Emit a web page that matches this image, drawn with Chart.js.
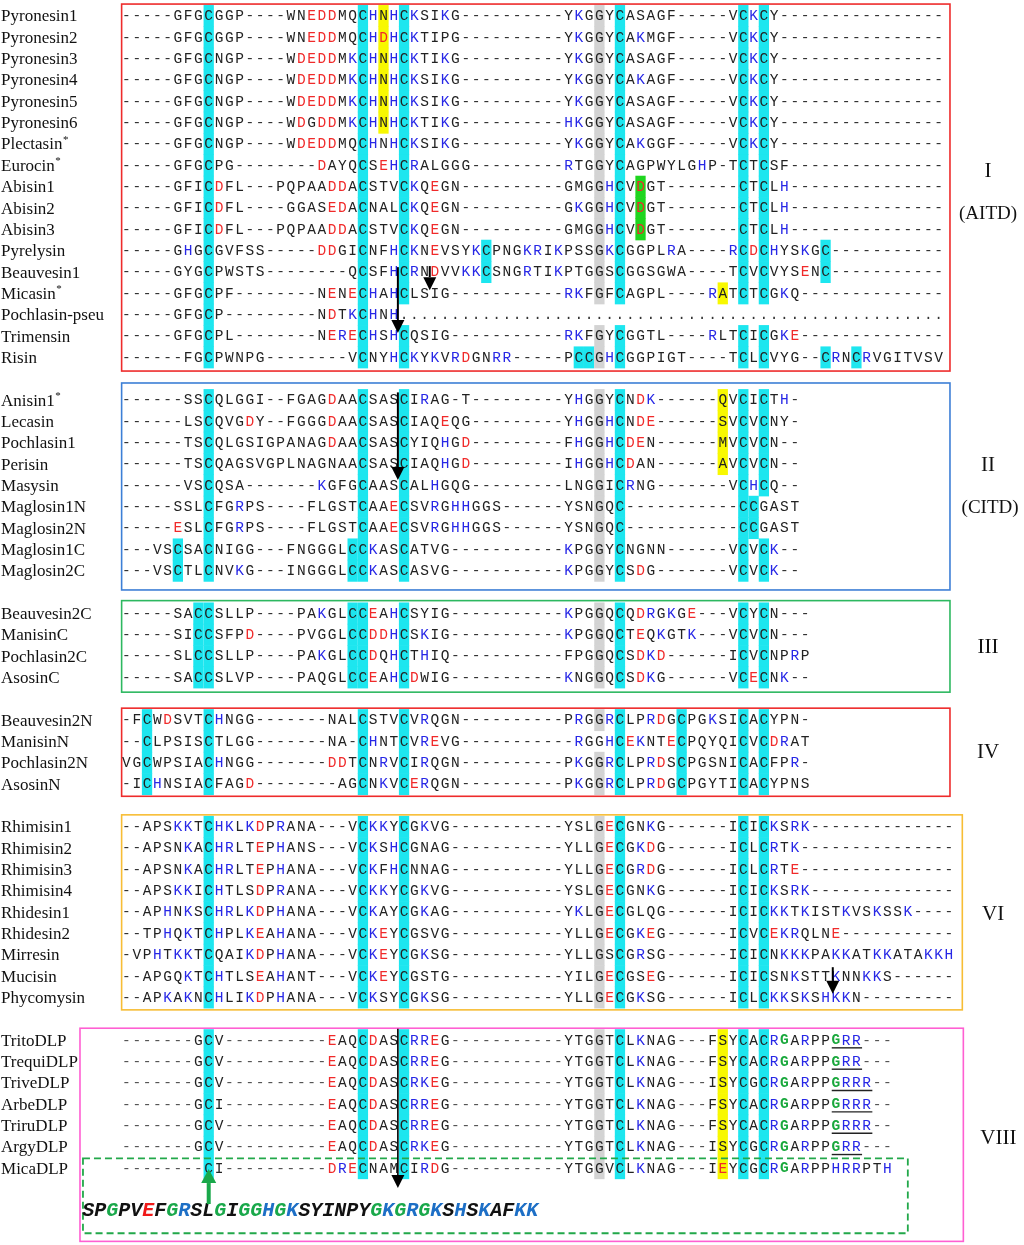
<!DOCTYPE html>
<html>
<head>
<meta charset="utf-8">
<script src="https://cdn.jsdelivr.net/npm/chart.js@4.4.1/dist/chart.umd.min.js"></script>
<style>
  html, body { margin: 0; padding: 0; background: #fff; }
  #wrap { width: 1024px; height: 1245px; }
</style>
</head>
<body>
<div id="wrap"><canvas id="align"></canvas></div>
<script>
// sequences: a number is a run of gaps "-", a number followed by "." is a run of dots
// cells: c = cyan, g = grey, y = yellow, n = green, followed by the column
var groupLabels = ["I", "II", "III", "IV", "VI", "VIII"];
var groupSubs = ["(AITD)", "(CITD)", "", "", "", ""];

var names1 = ["Pyronesin1", "Pyronesin2", "Pyronesin3", "Pyronesin4", "Pyronesin5", "Pyronesin6",
  "Plectasin*", "Eurocin*", "Abisin1", "Abisin2", "Abisin3", "Pyrelysin", "Beauvesin1",
  "Micasin*", "Pochlasin-pseu", "Trimensin", "Risin"];
var seqs1 = [
  "5GFGCGGP4WNEDDMQCHNHCKSIKG10YKGGYCASAGF5VCKCY16",
  "5GFGCGGP4WNEDDMQCHDHCKTIPG10YKGGYCAKMGF5VCKCY16",
  "5GFGCNGP4WDEDDMKCHNHCKTIKG10YKGGYCASAGF5VCKCY16",
  "5GFGCNGP4WDEDDMKCHNHCKSIKG10YKGGYCAKAGF5VCKCY16",
  "5GFGCNGP4WDEDDMKCHNHCKSIKG10YKGGYCASAGF5VCKCY16",
  "5GFGCNGP4WDGDDMKCHNHCKTIKG10HKGGYCASAGF5VCKCY16",
  "5GFGCNGP4WDEDDMQCHNHCKSIKG10YKGGYCAKGGF5VCKCY16",
  "5GFGCPG8DAYQCSEHCRALGGG9RTGGYCAGPWYLGHP1TCTCSF15",
  "5GFICDFL3PQPAADDACSTVCKQEGN10GMGGHCVDGT7CTCLH15",
  "5GFICDFL4GGASEDACNALCKQEGN10GKGGHCVDGT7CTCLH15",
  "5GFICDFL3PQPAADDACSTVCKQEGN10GMGGHCVDGT7CTCLH15",
  "5GHGCGVFSS5DDGICNFHCKNEVSYKCPNGKRIKPSSGKCGGPLRA4RCDCHYSKGC11",
  "5GYGCPWSTS8QCSFHCRNDVVKKCSNGRTIKPTGGSCGGSGWA4TCVCVYSENC11",
  "5GFGCPF8NENECHAHCLSIG11RKFGFCAGPL4RATCTCGKQ14",
  "5GFGCP9NDTKCHNH53.",
  "5GFGCPL8NERECHSHCQSIG11RKFGYCGGTL4RLTCICGKE14",
  "6FGCPWNPG8VCNYHCKYKVRDGNRR5PCCGHCGGPIGT4TCLCVYG2CRNCRVGITVSV"
];
var cells1 = [
  "c8 c23 c27 c48 c60 c62 g46 y25", "c8 c23 c27 c48 c60 c62 g46 y25",
  "c8 c23 c27 c48 c60 c62 g46 y25", "c8 c23 c27 c48 c60 c62 g46 y25",
  "c8 c23 c27 c48 c60 c62 g46 y25", "c8 c23 c27 c48 c60 c62 g46 y25",
  "c8 c23 c27 c48 c60 c62 g46", "c8 c23 c27 c48 c60 c62 g46",
  "c8 c23 c27 c48 c60 c62 g46 n50", "c8 c23 c27 c48 c60 c62 g46 n50",
  "c8 c23 c27 c48 c60 c62 g46 n50",
  "c8 c23 c27 c35 c48 c60 c62 c68 g46", "c8 c23 c27 c35 c48 c60 c62 c68 g46",
  "c8 c23 c27 c48 c60 c62 g46 y58", "c8 c23",
  "c8 c23 c27 c48 c60 c62 g46",
  "c8 c23 c27 c44 c45 c48 c60 c62 c68 c71 g46"
];

var names2 = ["Anisin1*", "Lecasin", "Pochlasin1", "Perisin", "Masysin",
  "Maglosin1N", "Maglosin2N", "Maglosin1C", "Maglosin2C"];
var seqs2 = [
  "6SSCQLGGI2FGAGDAACSASCIRAG1T9YHGGYCNDK6QVCICTH1",
  "6LSCQVGDY2FGGGDAACSASCIAQEQG9YHGGHCNDE6SVCVCNY1",
  "6TSCQLGSIGPANAGDAACSASCYIQHGD9FHGGHCDEN6MVCVCN2",
  "6TSCQAGSVGPLNAGNAACSASCIAQHGD9IHGGHCDAN6AVCVCN2",
  "6VSCQSA7KGFGCAASCALHGQG9LNGGICRNG7VCHCQ2",
  "5SSLCFGRPS4FLGSTCAAECSVRGHHGGS6YSNGQC11CCGAST",
  "5ESLCFGRPS4FLGSTCAAECSVRGHHGGS6YSNGQC11CCGAST",
  "3VSCSACNIGG3FNGGGLCCKASCATVG11KPGGYCNGNN6VCVCK2",
  "3VSCTLCNVKG3INGGGLCCKASCASVG11KPGGYCSDG7VCVCK2"
];
var cells2 = [
  "c8 c23 c27 c48 c60 c62 g46 y58", "c8 c23 c27 c48 c60 c62 g46 y58",
  "c8 c23 c27 c48 c60 c62 g46 y58", "c8 c23 c27 c48 c60 c62 g46 y58",
  "c8 c23 c27 c48 c60 c62 g46",
  "c8 c23 c27 c48 c60 c61 g46", "c8 c23 c27 c48 c60 c61 g46",
  "c5 c8 c22 c23 c27 c48 c60 c62 g46", "c5 c8 c22 c23 c27 c48 c60 c62 g46"
];

var names3 = ["Beauvesin2C", "ManisinC", "Pochlasin2C", "AsosinC"];
var seqs3 = [
  "5SACCSLLP4PAKGLCCEAHCSYIG11KPGGQCQDRGKGE3VCYCN3",
  "5SICCSFPD4PVGGLCCDDHCSKIG11KPGGQCTEQKGTK3VCVCN3",
  "5SLCCSLLP4PAKGLCCDQHCTHIQ11FPGGQCSDKD6ICVCNPRP",
  "5SACCSLVP4PAQGLCCEAHCDWIG11KNGGQCSDKG6VCECNK2"
];
var cells3 = [
  "c7 c8 c22 c23 c27 c48 c60 c62 g46", "c7 c8 c22 c23 c27 c48 c60 c62 g46",
  "c7 c8 c22 c23 c27 c48 c60 c62 g46", "c7 c8 c22 c23 c27 c48 c60 c62 g46"
];

var names4 = ["Beauvesin2N", "ManisinN", "Pochlasin2N", "AsosinN"];
var seqs4 = [
  "1FCWDSVTCHNGG7NALCSTVCVRQGN10PRGGRCLPRDGCPGKSICACYPN1",
  "2CLPSISCTLGG7NA1CHNTCVREVG11RGGHCEKNTECPQYQICVCDRAT",
  "VGCWPSIACHNGG7DDTCNRVCIRQGN10PKGGRCLPRDSCPGSNICACFPR1",
  "1ICHNSIACFAGD8AGCNKVCERQGN10PKGGRCLPRDGCPGYTICACYPNS"
];
var cells4 = [
  "c2 c8 c23 c27 c48 c54 c60 c62 g46", "c2 c8 c23 c27 c48 c54 c60 c62",
  "c2 c8 c23 c27 c48 c54 c60 c62 g46", "c2 c8 c23 c27 c48 c54 c60 c62 g46"
];

var names6 = ["Rhimisin1", "Rhimisin2", "Rhimisin3", "Rhimisin4", "Rhidesin1",
  "Rhidesin2", "Mirresin", "Mucisin", "Phycomysin"];
var seqs6 = [
  "2APSKKTCHKLKDPRANA3VCKKYCGKVG11YSLGECGNKG6ICICKSRK14",
  "2APSNKACHRLTEPHANS3VCKSHCGNAG11YLLGECGKDG6ICLCRTK15",
  "2APSNKACHRLTEPHANA3VCKFHCNNAG11YLLGECGRDG6ICLCRTE15",
  "2APSKKICHTLSDPRANA3VCKKYCGKVG11YSLGECGNKG6ICICKSRK14",
  "2APHNKSCHRLKDPHANA3VCKAYCGKAG11YKLGECGLQG6ICICKKTKISTKVSKSSK4",
  "2TPHQKTCHPLKEAHANA3VCKEYCGSVG11YLLGECGKEG6ICVCEKRQLNE11",
  "1VPHTKKTCQAIKDPHANA3VCKEYCGKSG11YLLGSCGRSG6ICICNKKKPAKKATKKATAKKH",
  "2APGQKTCHTLSEAHANT3VCKEYCGSTG11YILGECGSEG6ICICSNKSTTKNNKKS6",
  "2APKAKNCHLIKDPHANA3VCKSYCGKSG11YLLGECGKSG6ICLCKKSKSHKKN9"
];
var cells6 = [];
for (var i = 0; i < seqs6.length; i++) cells6.push("c8 c23 c27 c48 c60 c62 g46");

var names8 = ["TritoDLP", "TrequiDLP", "TriveDLP", "ArbeDLP", "TriruDLP", "ArgyDLP", "MicaDLP"];
var seqs8 = [
  "7GCV10EAQCDASCRREG11YTGGTCLKNAG3FSYCACRGARPPGRR3",
  "7GCV10EAQCDASCRREG11YTGGTCLKNAG3FSYCACRGARPPGRR3",
  "7GCV10EAQCDASCRKEG11YTGGTCLKNAG3ISYCGCRGARPPGRRR2",
  "7GCI10EAQCDASCRREG11YTGGTCLKNAG3FSYCACRGARPPGRRR2",
  "7GCV10EAQCDASCRREG11YTGGTCLKNAG3FSYCACRGARPPGRRR2",
  "7GCV10EAQCDASCRKEG11YTGGTCLKNAG3ISYCGCRGARPPGRR3",
  "8CI10DRECNAMCIRDG11YTGGVCLKNAG3IEYCGCRGARPPHRRPTH"
];
var cells8 = [];
for (var i = 0; i < seqs8.length; i++) cells8.push("c8 c23 c27 c48 c60 c62 g46 y58");
var dlpGreenCols = [64, 69];
var propeptide = "SPGPVEFGRSLGIGGHGKSYINPYGKGRGKSHSKAFKK";

var allNames = [names1, names2, names3, names4, names6, names8];
var allSeqs = [seqs1, seqs2, seqs3, seqs4, seqs6, seqs8];
var allCells = [cells1, cells2, cells3, cells4, cells6, cells8];

function expand(s) {
  return s.replace(/(\d+)(\.?)/g, function (m, n, dot) {
    return (dot ? "." : "-").repeat(+n);
  });
}

// lay the groups out one row apart
var rowNames = [], resPts = [], cellPts = [], groupRows = [];
var r = 0;
allSeqs.forEach(function (list, gi) {
  var first = r;
  list.forEach(function (s, k) {
    var seq = expand(s);
    rowNames.push({ y: r, name: allNames[gi][k], g: gi });
    for (var c = 0; c < seq.length; c++) {
      resPts.push({ x: c, y: r, ch: seq[c], g: gi });
    }
    allCells[gi][k].split(" ").forEach(function (t) {
      cellPts.push({ x: +t.slice(1), y: r, k: t[0] });
    });
    r++;
  });
  groupRows.push([first, r - 1]);
  r++;
});
var propRow = groupRows[5][1] + 2;
var pepPts = [];
for (var i = 0; i < propeptide.length; i++) {
  pepPts.push({ x: -3.72 + i * 1.167, y: propRow, ch: propeptide[i] });
}

// frames in axis units: [x0, x1, y0, y1]
var frames = [
  { c: "#ee2b2b", b: [-0.47, 80.1, -0.56, 16.64] },
  { c: "#3d7fd6", b: [-0.47, 80.1, 17.2, 26.9] },
  { c: "#2db860", b: [-0.47, 80.1, 27.4, 31.69] },
  { c: "#ee2b2b", b: [-0.47, 80.1, 32.44, 36.57] },
  { c: "#f7bd35", b: [-0.47, 81.3, 37.44, 46.58] },
  { c: "#ff5fd2", b: [-4.52, 81.4, 47.44, 57.43] }
];
var labelPos = [[83.8, 7.3], [83.8, 21.05], [83.8, 29.6], [83.8, 34.5], [84.3, 42.1], [84.8, 52.6]];
var subPos = [[83.8, 9.3], [84.0, 23.07]];
var arrows = [
  { x: 29.5, y0: 11.72, y1: 12.85 },
  { x: 26.4, y0: 11.77, y1: 14.86 },
  { x: 26.4, y0: 17.64, y1: 21.75 },
  { x: 68.7, y0: 44.58, y1: 45.83 },
  { x: 26.4, y0: 47.47, y1: 54.93, thin: true },
  { x: 8.0, y0: 55.68, y1: 54.04, green: true }
];

function resColor(ch, g, col) {
  if (ch === "-" || ch === ".") return g === 5 ? "#555" : "#333";
  if (g === 5 && ch === "G" && dlpGreenCols.indexOf(col) >= 0) return "#19a83c";
  if (ch === "D" || ch === "E") return "#f02a2a";
  if (ch === "K" || ch === "R" || ch === "H") return "#2727e6";
  return "#222";
}
function pepColor(ch) {
  if (ch === "G") return "#19a84a";
  if (ch === "D" || ch === "E") return "#f01818";
  if (ch === "K" || ch === "R" || ch === "H") return "#1d6fc6";
  return "#111";
}
var cellColors = { c: "#1de6ef", g: "#d3d3d3", y: "#f8f800", n: "#1fd51f" };

var alignPlugin = {
  id: "align",
  beforeDatasetsDraw: function (chart) {
    var ctx = chart.ctx, xs = chart.scales.x, ys = chart.scales.y;
    var w = xs.getPixelForValue(1) - xs.getPixelForValue(0);
    var h = ys.getPixelForValue(1) - ys.getPixelForValue(0);
    var meta = chart.getDatasetMeta(0);
    ctx.save();
    meta.data.forEach(function (el, i) {
      ctx.fillStyle = cellColors[chart.data.datasets[0].data[i].k];
      ctx.fillRect(el.x - w / 2, el.y - h / 2 - 0.3, w, h + 0.6);
    });
    ctx.restore();
  },
  afterDatasetsDraw: function (chart) {
    var ctx = chart.ctx, xs = chart.scales.x, ys = chart.scales.y;
    var px = function (v) { return xs.getPixelForValue(v); };
    var py = function (v) { return ys.getPixelForValue(v); };
    ctx.save();

    // frames
    ctx.lineWidth = 1.6;
    frames.forEach(function (f) {
      ctx.strokeStyle = f.c;
      ctx.strokeRect(px(f.b[0]), py(f.b[2]), px(f.b[1]) - px(f.b[0]), py(f.b[3]) - py(f.b[2]));
    });
    ctx.setLineDash([7, 4]);
    ctx.lineWidth = 1.8;
    ctx.strokeStyle = "#22a84a";
    ctx.strokeRect(px(-4.23), py(53.54), px(76.0) - px(-4.23), py(57.05) - py(53.54));
    ctx.setLineDash([]);

    // residues
    ctx.textAlign = "center";
    ctx.textBaseline = "middle";
    var meta = chart.getDatasetMeta(1), data = chart.data.datasets[1].data;
    meta.data.forEach(function (el, i) {
      var d = data[i];
      var green = d.g === 5 && d.ch === "G" && dlpGreenCols.indexOf(d.x) >= 0;
      ctx.font = (green ? "bold " : "") + "14.5px 'Liberation Mono'";
      ctx.fillStyle = resColor(d.ch, d.g, d.x);
      ctx.fillText(d.ch, el.x, el.y + 0.5);
    });

    // underline of the C-terminal G-R tail
    ctx.strokeStyle = "#222";
    ctx.lineWidth = 1.4;
    allSeqs[5].forEach(function (s, k) {
      var seq = expand(s);
      if (seq[69] !== "G") return;
      var end = 69;
      while (seq[end + 1] === "R") end++;
      var y = py(groupRows[5][0] + k + 0.36);
      ctx.beginPath();
      ctx.moveTo(px(68.6), y);
      ctx.lineTo(px(end + 0.55), y);
      ctx.stroke();
    });

    // propeptide
    var pm = chart.getDatasetMeta(2), pd = chart.data.datasets[2].data;
    ctx.font = "italic bold 20px 'Liberation Mono'";
    pm.data.forEach(function (el, i) {
      ctx.fillStyle = pepColor(pd[i].ch);
      ctx.fillText(pd[i].ch, el.x, el.y);
    });

    // names
    ctx.textAlign = "left";
    rowNames.forEach(function (n) {
      var x = px(-12.2);
      var y = py(n.y);
      var star = n.name.slice(-1) === "*";
      var txt = star ? n.name.slice(0, -1) : n.name;
      ctx.font = "17px 'Liberation Serif'";
      ctx.fillStyle = "#111";
      ctx.fillText(txt, x, y + 1);
      if (star) {
        var w = ctx.measureText(txt).width;
        ctx.font = "11px 'Liberation Serif'";
        ctx.fillText("*", x + w + 0.5, y - 4);
      }
    });

    // group labels
    ctx.textAlign = "center";
    ctx.fillStyle = "#111";
    ctx.font = "21px 'Liberation Serif'";
    groupLabels.forEach(function (t, i) {
      ctx.fillText(t, px(labelPos[i][0]), py(labelPos[i][1]));
    });
    ctx.font = "19px 'Liberation Serif'";
    subPos.forEach(function (p, i) {
      ctx.fillText(groupSubs[i], px(p[0]), py(p[1]));
    });

    // arrows
    arrows.forEach(function (a) {
      var x = px(a.x), y0 = py(a.y0), y1 = py(a.y1);
      var dir = y1 > y0 ? 1 : -1;
      var hl = a.green ? 14 : 13, hw = a.green ? 7.5 : 6.5;
      ctx.strokeStyle = a.green ? "#19a84a" : "#000";
      ctx.fillStyle = ctx.strokeStyle;
      ctx.lineWidth = a.green ? 4 : (a.thin ? 1.6 : 2);
      ctx.beginPath();
      ctx.moveTo(x, y0);
      ctx.lineTo(x, y1 - dir * hl);
      ctx.stroke();
      ctx.beginPath();
      ctx.moveTo(x, y1);
      ctx.lineTo(x - hw, y1 - dir * hl);
      ctx.lineTo(x + hw, y1 - dir * hl);
      ctx.closePath();
      ctx.fill();
    });
    ctx.restore();
  }
};

new Chart(document.getElementById("align"), {
  type: "scatter",
  data: {
    datasets: [
      { label: "cells", data: cellPts, pointRadius: 0, pointHoverRadius: 0 },
      { label: "residues", data: resPts, pointRadius: 0, pointHoverRadius: 0 },
      { label: "propeptide", data: pepPts, pointRadius: 0, pointHoverRadius: 0 }
    ]
  },
  options: {
    responsive: true,
    maintainAspectRatio: false,
    animation: false,
    events: [],
    layout: { padding: 0 },
    plugins: { legend: { display: false }, tooltip: { enabled: false } },
    scales: {
      x: { type: "linear", min: -12.3, max: 87.3, display: false },
      y: { type: "linear", min: -0.75, max: 57.6, reverse: true, display: false }
    }
  },
  plugins: [alignPlugin]
});
</script>
</body>
</html>
